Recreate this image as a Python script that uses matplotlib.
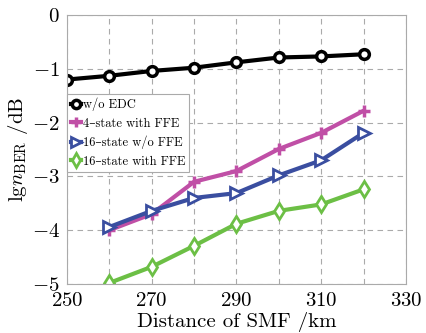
import matplotlib
matplotlib.use("Agg")
import matplotlib.pyplot as plt

# distance of SMF (km)
dist_edc = [250, 260, 270, 280, 290, 300, 310, 320]
dist = [260, 270, 280, 290, 300, 310, 320]

# lg(BER) values
wo_edc = [-1.2, -1.13, -1.04, -0.98, -0.88, -0.79, -0.77, -0.73]
ffe_4state = [-4.0, -3.7, -3.1, -2.9, -2.49, -2.19, -1.78]
wo_ffe_16state = [-3.94, -3.64, -3.4, -3.31, -2.98, -2.7, -2.19]
ffe_16state = [-4.98, -4.68, -4.29, -3.88, -3.64, -3.52, -3.24]

labels = ["w/o EDC", "4\u2013state with FFE", "16\u2013state w/o FFE", "16\u2013state with FFE"]
xticks = [250, 270, 290, 310, 330]
yticks = [0, -1, -2, -3, -4, -5]

plt.rcParams["font.family"] = ["cmr10", "DejaVu Serif"]
plt.rcParams["mathtext.fontset"] = "cm"
plt.rcParams["axes.formatter.use_mathtext"] = True

fig = plt.figure(figsize=(4.26, 3.33), dpi=100)
ax = fig.add_axes([0.157, 0.147, 0.796, 0.808])

ax.plot(dist_edc, wo_edc, color="black", lw=3, marker="o", ms=7,
        mfc="white", mec="black", mew=2.5, label=labels[0])
ax.plot(dist, ffe_4state, color="#c04fa6", lw=3, marker="+", ms=8,
        mew=2.5, label=labels[1])
ax.plot(dist, wo_ffe_16state, color="#3a4ea0", lw=3, marker=">", ms=8,
        mfc="white", mec="#3a4ea0", mew=2, label=labels[2])
ax.plot(dist, ffe_16state, color="#6cbf45", lw=3, marker="d", ms=8,
        mfc="white", mec="#6cbf45", mew=2, label=labels[3])

ax.set_xlim(250, 330)
ax.set_ylim(-5, 0)
ax.set_xticks(xticks)
ax.set_yticks(yticks)
ax.set_xticks(range(260, 330, 20), minor=True)
ax.tick_params(which="both", length=0, labelsize=15)
ax.tick_params(axis="x", pad=6)
ax.tick_params(axis="y", pad=5)
ax.grid(True, which="both", axis="x", ls=(0, (5, 4)), color="#aaaaaa", lw=0.8)
ax.grid(True, which="major", axis="y", ls=(0, (5, 4)), color="#aaaaaa", lw=0.8)
ax.set_axisbelow(True)
for s in ax.spines.values():
    s.set_color("#aaaaaa")
    s.set_linewidth(0.8)

ax.set_xlabel("Distance of SMF /km", fontsize=15, labelpad=1)
ax.set_ylabel(r"$\mathrm{lg}n_{\mathrm{BER}}$ /dB", fontsize=15, labelpad=1)

leg = ax.legend(loc="upper left", bbox_to_anchor=(0, 0.706), borderaxespad=0,
                fontsize=9, handlelength=0.8, handletextpad=0.2, markerscale=0.85,
                borderpad=0.3, labelspacing=0.5, fancybox=False, framealpha=1)
leg.get_frame().set_edgecolor("#aaaaaa")
leg.get_frame().set_linewidth(0.8)

fig.savefig("out.png", dpi=100)
